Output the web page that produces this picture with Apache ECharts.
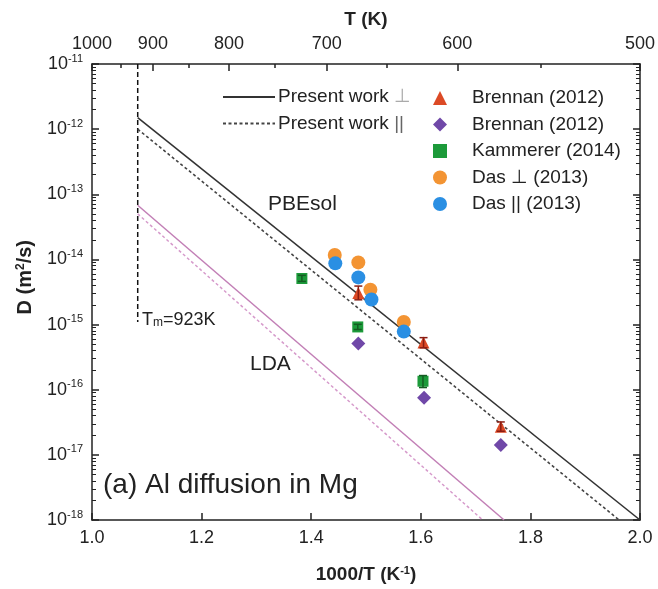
<!DOCTYPE html>
<html><head><meta charset="utf-8">
<script src="https://cdn.jsdelivr.net/npm/echarts@6/dist/echarts.min.js"></script>
<style>html,body{margin:0;padding:0;background:#fff}#c{width:658px;height:589px}</style>
</head><body><div id="c"></div>
<script>
// ---- tick labels / axes data ----
const xTickValues = [1.0, 1.2, 1.4, 1.6, 1.8, 2.0];
const topMajorT = [1000, 900, 800, 700, 600, 500];
const topMinorT = [950, 850, 750, 650, 550];
const yMajorExp = [-18, -17, -16, -15, -14, -13, -12, -11];
const meltT = 923;
const meltLineD = [1e-11, 1.1e-15];

// ---- calculated lines (1000/T, D) ----
const pbePerpX = [1.0834, 2.0],   pbePerpD = [1.5e-12, 1.0e-18];
const pbeParX  = [1.0834, 1.962], pbeParD  = [1.0e-12, 1.0e-18];
const ldaPerpX = [1.0834, 1.752], ldaPerpD = [6.8e-14, 1.0e-18];
const ldaParX  = [1.0834, 1.713], ldaParD  = [5.0e-14, 1.0e-18];

// ---- experimental points ----
const brennanPerpX = [1.486, 1.605, 1.746];
const brennanPerpD = [3.05e-15, 5.3e-16, 2.7e-17];
const brennanPerpLo = [2.4e-15, 4.4e-16, 2.3e-17];
const brennanPerpHi = [3.9e-15, 6.3e-16, 3.2e-17];
const brennanParX = [1.486, 1.606, 1.746];
const brennanParD = [5.1e-16, 7.5e-17, 1.42e-17];
const kammererX = [1.383, 1.485, 1.604];
const kammererD = [5.1e-15, 9.2e-16, 1.35e-16];
const kammererLo = [4.6e-15, 8.4e-16, 1.08e-16];
const kammererHi = [5.7e-15, 1.01e-15, 1.65e-16];
const dasPerpX = [1.443, 1.486, 1.508, 1.569];
const dasPerpD = [1.17e-14, 9.0e-15, 3.43e-15, 1.10e-15];
const dasParX = [1.444, 1.486, 1.510, 1.569];
const dasParD = [8.7e-15, 5.3e-15, 2.42e-15, 7.8e-16];

const legendLabels = {
  'brennanPerp': 'Brennan (2012)',
  'brennanPar': 'Brennan (2012)',
  'kammerer': 'Kammerer (2014)',
  'dasPerp': 'Das ⊥ (2013)',
  'dasPar': 'Das || (2013)'
};

const FONT = '"Liberation Sans", Arial, sans-serif';
const TXT = '#222';
const NONE = 'rgba(0,0,0,0)';
const zip = (a, b) => a.map((v, i) => [v, b[i]]);
const zip3 = (a, b, c) => a.map((v, i) => [v, b[i], c[i]]);

const minorExp = [];
yMajorExp.slice(0, -1).forEach(e => { for (let m = 2; m <= 9; m++) minorExp.push(e + Math.log10(m)); });

function errBar(color) {
  return function (params, api) {
    const x = api.value(0), lo = api.value(1), hi = api.value(2);
    const p1 = api.coord([x, lo]), p2 = api.coord([x, hi]);
    const w = 4;
    const st = { stroke: color, lineWidth: 1.5 };
    return { type: 'group', children: [
      { type: 'line', shape: { x1: p1[0], y1: p1[1], x2: p2[0], y2: p2[1] }, style: st },
      { type: 'line', shape: { x1: p1[0] - w, y1: p1[1], x2: p1[0] + w, y2: p1[1] }, style: st },
      { type: 'line', shape: { x1: p2[0] - w, y1: p2[1], x2: p2[0] + w, y2: p2[1] }, style: st }
    ]};
  };
}

const axisLineStyle = { color: '#222', width: 1.5 };
const chart = echarts.init(document.getElementById('c'), null, { renderer: 'canvas' });

const option = {
  animation: false,
  backgroundColor: '#fff',
  textStyle: { fontFamily: FONT },
  grid: { left: 92, right: 14, top: 64, bottom: 65, containLabel: false },
  xAxis: [
    {
      type: 'value', position: 'bottom', min: 1, max: 2, interval: 0.2,
      axisLine: { lineStyle: axisLineStyle },
      axisTick: { inside: true, length: 7, lineStyle: axisLineStyle },
      axisLabel: { fontSize: 18, color: TXT, margin: 9, fontFamily: FONT, formatter: v => v.toFixed(1) },
      splitLine: { show: false },
      name: '1000/T (K{s|-1})', nameLocation: 'middle', nameGap: 45,
      nameTextStyle: { fontSize: 19, fontWeight: 'bold', color: TXT, fontFamily: FONT,
        rich: { s: { fontSize: 11, fontWeight: 'bold', verticalAlign: 'top', lineHeight: 12, color: TXT } } }
    },
    {
      type: 'value', position: 'top', min: 1, max: 2,
      axisLine: { lineStyle: axisLineStyle },
      axisTick: { inside: true, length: 7, lineStyle: axisLineStyle, customValues: topMajorT.map(t => 1000 / t) },
      axisLabel: { fontSize: 18, color: TXT, margin: 11, fontFamily: FONT,
        customValues: topMajorT.map(t => 1000 / t), formatter: v => String(Math.round(1000 / v)) },
      splitLine: { show: false },
      name: 'T (K)', nameLocation: 'middle', nameGap: 35,
      nameTextStyle: { fontSize: 19, fontWeight: 'bold', color: TXT, fontFamily: FONT }
    },
    {
      type: 'value', position: 'top', min: 1, max: 2,
      axisLine: { show: false },
      axisTick: { inside: true, length: 4, lineStyle: axisLineStyle, customValues: topMinorT.map(t => 1000 / t) },
      axisLabel: { show: false, customValues: [] },
      splitLine: { show: false }
    }
  ],
  yAxis: [
    {
      type: 'log', logBase: 10, min: 1e-18, max: 1e-11, position: 'left',
      axisLine: { lineStyle: axisLineStyle },
      axisTick: { inside: true, length: 7, lineStyle: axisLineStyle },
      axisLabel: { fontSize: 18, color: TXT, margin: 9, fontFamily: FONT,
        formatter: v => '{b|10}{s|' + Math.round(Math.log10(v)) + '}',
        rich: { b: { fontSize: 18, color: TXT, lineHeight: 22 },
                s: { fontSize: 11, color: TXT, verticalAlign: 'top', lineHeight: 12 } } },
      splitLine: { show: false }
    },
    {
      type: 'log', logBase: 10, min: 1e-18, max: 1e-11, position: 'right',
      axisLine: { lineStyle: axisLineStyle },
      axisTick: { inside: true, length: 7, lineStyle: axisLineStyle },
      axisLabel: { show: false },
      splitLine: { show: false }
    },
    {
      type: 'value', min: -18, max: -11, position: 'left',
      axisLine: { show: false },
      axisTick: { inside: true, length: 4, lineStyle: { color: '#222', width: 1 }, customValues: minorExp },
      axisLabel: { show: false },
      splitLine: { show: false }
    },
    {
      type: 'value', min: -18, max: -11, position: 'right',
      axisLine: { show: false },
      axisTick: { inside: true, length: 4, lineStyle: { color: '#222', width: 1 }, customValues: minorExp },
      axisLabel: { show: false },
      splitLine: { show: false }
    }
  ],
  legend: [
    {
      orient: 'vertical', left: 222, top: 87, padding: 0, itemWidth: 52, itemHeight: 14, itemGap: 6.5,
      selectedMode: false,
      data: ['Present work ⊥', 'Present work ||'],
      formatter: n => n === 'Present work ⊥' ? 'Present work {g|⊥}' : 'Present work {h|||}',
      textStyle: { fontSize: 19, color: TXT, fontFamily: FONT, lineHeight: 20, padding: [0, 0, 0, -2],
        rich: { g: { fontSize: 19, color: '#aaa' }, h: { fontSize: 19, color: '#666' } } }
    },
    {
      orient: 'vertical', left: 433, top: 88, padding: 0, itemWidth: 14, itemHeight: 14, itemGap: 6.5,
      selectedMode: false,
      data: ['brennanPerp', 'brennanPar', 'kammerer', 'dasPerp', 'dasPar'],
      formatter: n => legendLabels[n],
      textStyle: { fontSize: 19, color: TXT, fontFamily: FONT, lineHeight: 20, padding: [0, 0, 0, 20] }
    }
  ],
  graphic: [
    { type: 'text', left: 268, top: 194, silent: true,
      style: { text: 'PBEsol', fontSize: 21, fill: TXT, fontFamily: FONT } },
    { type: 'text', left: 250, top: 354, silent: true,
      style: { text: 'LDA', fontSize: 21, fill: TXT, fontFamily: FONT } },
    { type: 'text', left: 103, top: 471, silent: true,
      style: { text: '(a) Al diffusion in Mg', fontSize: 28, fill: TXT, fontFamily: FONT } },
    { type: 'text', left: 142, top: 309, silent: true,
      style: { text: 'T{m|m}=923K', fontSize: 18, fill: TXT, fontFamily: FONT,
        rich: { m: { fontSize: 12, fill: TXT, verticalAlign: 'bottom', lineHeight: 10, padding: [8, 0, 0, 0] } } } },
    { type: 'text', left: 15, top: 240, rotation: Math.PI / 2, silent: true,
      style: { text: 'D (m{s|2}/s)', fontSize: 20, fontWeight: 'bold', fill: TXT, fontFamily: FONT,
        rich: { s: { fontSize: 12, fontWeight: 'bold', fill: TXT, verticalAlign: 'top', lineHeight: 12 } } } }
  ],
  series: [
    { name: 'Tm', type: 'line', symbol: 'none', silent: true,
      data: meltLineD.map(d => [1000 / meltT, d]),
      lineStyle: { color: '#111', width: 1.5, type: [5, 3] } },
    { name: 'LDA ⊥', type: 'line', symbol: 'none', silent: true, data: zip(ldaPerpX, ldaPerpD),
      lineStyle: { color: '#c27fb6', width: 1.5 } },
    { name: 'LDA ||', type: 'line', symbol: 'none', silent: true, data: zip(ldaParX, ldaParD),
      lineStyle: { color: '#d69acb', width: 1.5, type: [3, 2.5] } },
    { name: 'Present work ⊥', type: 'line', symbol: 'none', silent: true, data: zip(pbePerpX, pbePerpD),
      lineStyle: { color: '#333', width: 1.6 }, itemStyle: { color: NONE, borderColor: NONE } },
    { name: 'Present work ||', type: 'line', symbol: 'none', silent: true, data: zip(pbeParX, pbeParD),
      lineStyle: { color: '#444', width: 1.6, type: [3, 2.5] }, itemStyle: { color: NONE, borderColor: NONE } },
    { name: 'brennanPerpErr', type: 'custom', silent: true, renderItem: errBar('#8a1c12'),
      encode: { x: 0, y: [1, 2] }, data: zip3(brennanPerpX, brennanPerpLo, brennanPerpHi), z: 4 },
    { name: 'kammererErr', type: 'custom', silent: true, renderItem: errBar('#145c22'),
      encode: { x: 0, y: [1, 2] }, data: zip3(kammererX, kammererLo, kammererHi), z: 4 },
    { name: 'brennanPerp', type: 'scatter', symbol: 'triangle', symbolSize: 12,
      data: zip(brennanPerpX, brennanPerpD), itemStyle: { color: '#dc4a26', opacity: 1 }, z: 3 },
    { name: 'brennanPar', type: 'scatter', symbol: 'diamond', symbolSize: 14,
      data: zip(brennanParX, brennanParD), itemStyle: { color: '#7048a8', opacity: 1 }, z: 3 },
    { name: 'kammerer', type: 'scatter', symbol: 'rect', symbolSize: 11,
      data: zip(kammererX, kammererD), itemStyle: { color: '#1c9a3a', opacity: 1 }, z: 3 },
    { name: 'dasPerp', type: 'scatter', symbol: 'circle', symbolSize: 14,
      data: zip(dasPerpX, dasPerpD), itemStyle: { color: '#f39433', opacity: 1 }, z: 3 },
    { name: 'dasPar', type: 'scatter', symbol: 'circle', symbolSize: 14,
      data: zip(dasParX, dasParD), itemStyle: { color: '#2a8fe3', opacity: 1 }, z: 3 }
  ]
};
chart.setOption(option);
</script>
</body></html>
